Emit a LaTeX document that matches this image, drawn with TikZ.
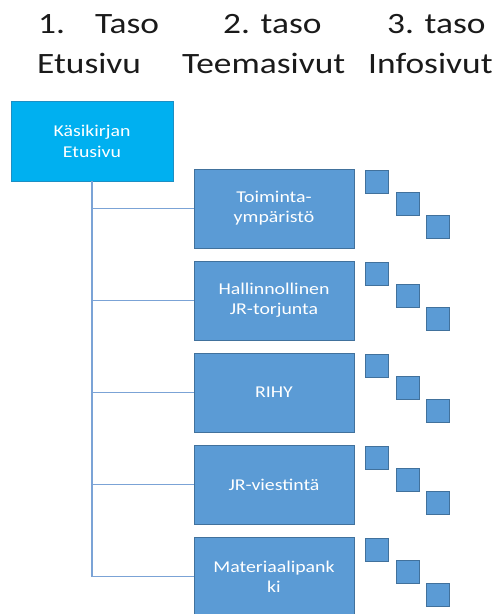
\documentclass[tikz,border=0pt]{standalone}
\usepackage{fontspec}
\setmainfont{Carlito}[FakeStretch=1.2]
\definecolor{topfill}{HTML}{00B0F0}
\definecolor{topdraw}{HTML}{1C8FC4}
\definecolor{boxfill}{HTML}{5B9BD5}
\definecolor{boxdraw}{HTML}{41719C}
\definecolor{linecol}{HTML}{7BA3D6}
\definecolor{headcol}{HTML}{1A1A1A}
\tikzset{
  head/.style={anchor=base west, inner sep=0pt, text=headcol, font=\fontsize{29.5}{36}\selectfont},
  topbox/.style={draw=topdraw, fill=topfill, line width=0.8pt, minimum width=162pt, minimum height=80pt, text=white, align=center, font=\fontsize{16.5}{21}\selectfont, inner sep=0pt},
  teema/.style={draw=boxdraw, fill=boxfill, line width=0.8pt, minimum width=160pt, minimum height=79pt, text=white, align=center, font=\fontsize{16.5}{20}\selectfont, inner sep=0pt},
  sq/.style={draw=boxdraw, fill=boxfill, line width=0.8pt, minimum width=23pt, minimum height=23pt, inner sep=0pt},
  conn/.style={draw=linecol, line width=1.4pt}
}
\begin{document}
\begin{tikzpicture}[x=1pt,y=-1pt]
\useasboundingbox (0,0) rectangle (501,614);
% headers
\node[head] (h1a) at (38,33) {1.};
\node[head] (h1b) at (95,33) {Taso};
\node[head] (h2a) at (223,33) {2. taso};
\node[head] (h3a) at (387,33) {3. taso};
\node[head] (h1c) at (37,73) {Etusivu};
\node[head] (h2c) at (182,73) {Teemasivut};
\node[head] (h3c) at (368,73) {Infosivut};
% top box
\node[topbox] (etu) at (92,141) {Käsikirjan\\Etusivu};
% teema boxes
\node[teema] (t1) at (274,208.5) {Toiminta-\\ympäristö};
\node[teema] (t2) at (274,300.5) {Hallinnollinen\\JR-torjunta};
\node[teema] (t3) at (274,392.5) {RIHY};
\node[teema] (t4) at (274,484.5) {JR-viestintä};
\node[teema] (t5) at (274,576.5) {Materiaalipank\\ki};
% connectors
\draw[conn] (etu.south) -- (etu.south |- t5.west) -- (t5.west);
\foreach \k in {1,2,3,4}{
  \draw[conn] (etu.south |- t\k.west) -- (t\k.west);
}
% small squares
\foreach \k/\T in {1/169,2/261,3/353,4/445,5/537}{
  \node[sq] (s\k a) at (376.5,\T+12.5) {};
  \node[sq] (s\k b) at (407.5,\T+35) {};
  \node[sq] (s\k c) at (437.5,\T+57.5) {};
}
\end{tikzpicture}
\end{document}
